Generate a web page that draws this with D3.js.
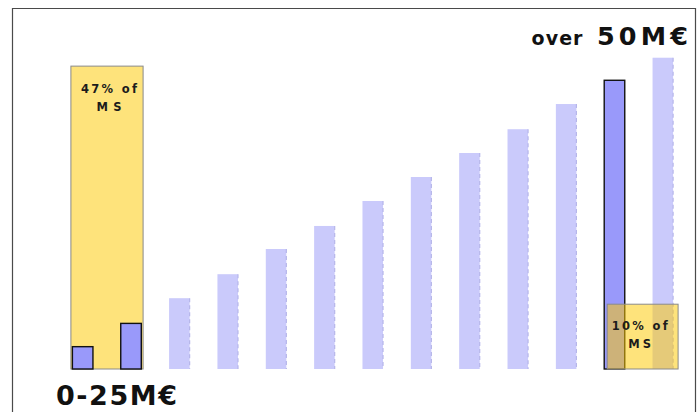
<!DOCTYPE html>
<html>
<head>
<meta charset="utf-8">
<script src="https://cdn.jsdelivr.net/npm/d3@7/dist/d3.min.js"></script>
<style>
  html, body { margin: 0; padding: 0; background: #fff; }
  svg { display: block; font-family: "DejaVu Sans", "Open Sans", sans-serif; }
</style>
</head>
<body>
<svg id="chart" width="700" height="412"></svg>
<script>
// Turnover brackets, ordered from smallest to largest company size
const categories = ["c1", "c2", "c3", "c4", "c5", "c6", "c7", "c8", "c9", "c10", "c11", "c12", "c13"];
// Relative bar heights
const values = [0.93, 1.9, 2.95, 3.95, 5.0, 5.96, 7.0, 8.0, 9.0, 9.99, 11.04, 12.03, 12.97];
// Brackets that are emphasised (solid bars with outline)
const highlighted = ["c1", "c2", "c12"];
// Market share callouts: first/last bracket they cover, box height, text lines
const shareFrom = ["c1", "c12"];
const shareTo = ["c2", "c13"];
const shareTop = [12.62, 2.7];
const shareLines = [["47% of", "MS"], ["10% of", "MS"]];
// Bracket end labels
const lowLabel = "0-25M€";
const highPrefix = "over";
const highLabel = "50M€";

const svg = d3.select("#chart");

const x = d3.scaleBand()
  .domain(categories)
  .range([58.5, 687])
  .paddingInner(0.575)
  .paddingOuter(0.2875);

const y = d3.scaleLinear()
  .domain([0, 13])
  .range([369, 57]);

// Spread a label's letters evenly so it spans the given width
function spread(sel, width, centred) {
  const node = sel.node();
  const natural = node.getComputedTextLength();
  const n = sel.text().length;
  const ls = n > 1 ? (width - natural) / (n - 1) : 0;
  sel.attr("letter-spacing", ls);
  if (centred) sel.attr("x", +sel.attr("x") + ls / 2);
  return sel;
}

// Frame
svg.append("path")
  .attr("d", "M12.5,412 L12.5,8.5 L695.5,8.5 L695.5,412")
  .attr("fill", "none")
  .attr("stroke", "#4a4a4a")
  .attr("stroke-width", 1.2);

const data = categories.map((c, i) => ({ c, v: values[i], hi: highlighted.includes(c) }));
const boxes = shareFrom.map((f, i) => ({ from: f, to: shareTo[i], top: shareTop[i], lines: shareLines[i] }));

function drawBox(g, b, padL, padR) {
  const x0 = x(b.from) - padL;
  const x1 = x(b.to) + x.bandwidth() + padR;
  g.append("rect")
    .attr("x", x0)
    .attr("y", y(b.top))
    .attr("width", x1 - x0)
    .attr("height", y(0) - y(b.top))
    .attr("fill", "#fdc902")
    .attr("fill-opacity", 0.52)
    .attr("stroke", "#8a8a8a")
    .attr("stroke-width", 1);
  return (x0 + x1) / 2;
}

function drawBoxText(cx, top, lines, widths) {
  lines.forEach((t, k) => {
    const s = svg.append("text")
      .attr("x", cx)
      .attr("y", y(top) + 27 + k * 17.5)
      .attr("text-anchor", "middle")
      .attr("font-size", 11.5)
      .attr("font-weight", 700)
      .attr("fill", "#1c1c1c")
      .text(t);
    spread(s, widths[k], true);
  });
}

// Callout behind the small brackets
const backLayer = svg.append("g");
const leftCx = drawBox(backLayer, boxes[0], 1.5, 1.8);
drawBoxText(leftCx + 2, boxes[0].top, boxes[0].lines, [56, 25]);

// Bars
const bars = svg.append("g");
data.forEach(d => {
  const bx = x(d.c), bw = x.bandwidth(), by = y(d.v), bh = y(0) - y(d.v);
  if (d.hi) {
    bars.append("rect")
      .attr("x", bx).attr("y", by).attr("width", bw).attr("height", bh)
      .attr("fill", "#9999fa")
      .attr("stroke", "#111")
      .attr("stroke-width", 1.4);
  } else {
    bars.append("rect")
      .attr("x", bx).attr("y", by).attr("width", bw).attr("height", bh)
      .attr("fill", "#cacafb");
    bars.append("line")
      .attr("x1", bx + bw).attr("x2", bx + bw)
      .attr("y1", by).attr("y2", y(0))
      .attr("stroke", "#b6b6ea")
      .attr("stroke-width", 1.2)
      .attr("stroke-dasharray", "4,3");
  }
});

// Callout over the large brackets
const frontLayer = svg.append("g");
const rightCx = drawBox(frontLayer, boxes[1], -3, 5);
drawBoxText(rightCx - 3, boxes[1].top + 0.05, boxes[1].lines, [56, 23]);

// Bracket end labels
spread(svg.append("text")
  .attr("x", 56).attr("y", 405)
  .attr("font-size", 27).attr("font-weight", 700).attr("fill", "#111")
  .text(lowLabel), 121, false);

spread(svg.append("text")
  .attr("x", 531.5).attr("y", 45)
  .attr("font-size", 19).attr("font-weight", 700).attr("fill", "#111")
  .text(highPrefix), 51, false);

spread(svg.append("text")
  .attr("x", 597).attr("y", 45)
  .attr("font-size", 25.5).attr("font-weight", 700).attr("fill", "#111")
  .text(highLabel), 91, false);
</script>
</body>
</html>
